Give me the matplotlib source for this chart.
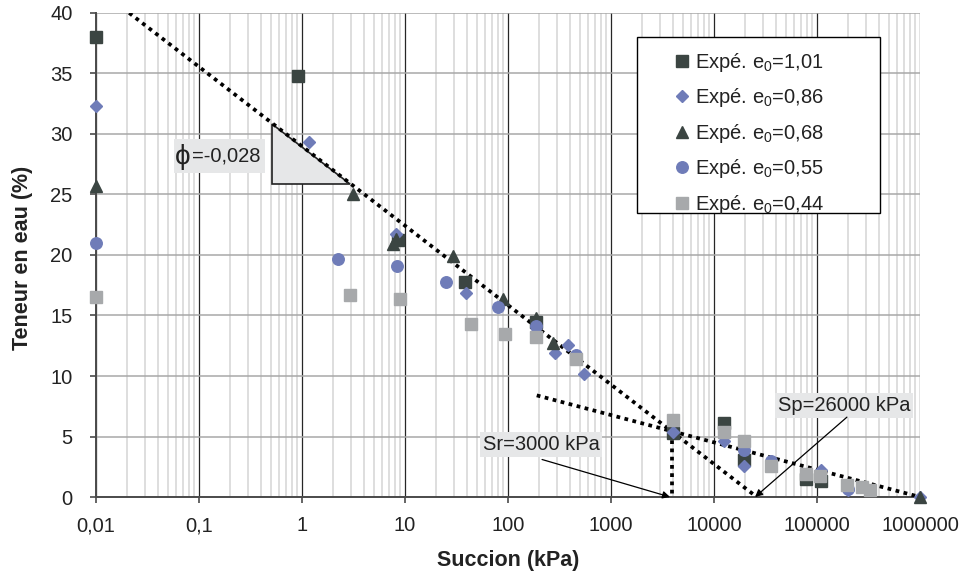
import matplotlib
matplotlib.use('Agg')
import matplotlib.pyplot as plt
from matplotlib.patches import Polygon, Rectangle
from matplotlib.ticker import FixedLocator, FixedFormatter, LogLocator, NullFormatter

plt.rcParams['font.family'] = ['Liberation Sans', 'DejaVu Sans']
plt.rcParams['mathtext.fontset'] = 'custom'
plt.rcParams['mathtext.rm'] = 'Liberation Sans'
plt.rcParams['mathtext.it'] = 'Liberation Sans:italic'

# ---- data (succion in kPa, teneur en eau in %) ----
s1_x = [0.01, 0.91, 8.5, 38, 187, 4000, 12500, 19500, 78000, 110000]
s1_y = [38.0, 34.8, 21.2, 17.8, 14.5, 5.3, 6.1, 3.1, 1.5, 1.3]

s2_x = [0.01, 1.17, 8.2, 39, 286, 380, 550, 4000, 12500, 19500, 110000, 200000, 1000000]
s2_y = [32.3, 29.3, 21.7, 16.9, 11.9, 12.6, 10.2, 5.4, 4.6, 2.6, 2.2, 0.6, 0.0]

s3_x = [0.01, 3.13, 7.6, 8.2, 29, 89, 187, 273, 1000000]
s3_y = [25.7, 25.0, 20.9, 21.3, 19.9, 16.4, 14.8, 12.7, 0.0]

s4_x = [0.01, 2.24, 8.3, 25, 80, 187, 460, 19500, 36000, 200000]
s4_y = [21.0, 19.7, 19.1, 17.8, 15.7, 14.1, 11.7, 3.9, 3.0, 0.7]

s5_x = [0.01, 2.93, 8.9, 43.6, 94, 187, 460, 4000, 12500, 19500, 36000, 78000, 107000, 195000, 275000, 330000]
s5_y = [16.5, 16.7, 16.4, 14.3, 13.5, 13.2, 11.4, 6.4, 5.4, 4.6, 2.6, 1.9, 1.7, 1.0, 0.8, 0.6]

labels = ['Expé. e$_0$=1,01', 'Expé. e$_0$=0,86', 'Expé. e$_0$=0,68',
          'Expé. e$_0$=0,55', 'Expé. e$_0$=0,44']

# fitted lines
line1_x = [0.021, 26000]
line1_y = [40, 0]
line2_x = [190, 1000000]
line2_y = [8.4, 0]
sr_x = [3900, 3900]
sr_y = [5.4, 0]

# slope triangle
tri_x = [0.51, 0.51, 2.92]
tri_y = [30.8, 25.9, 25.9]

xticks = [0.01, 0.1, 1, 10, 100, 1000, 10000, 100000, 1000000]
xtick_labels = ['0,01', '0,1', '1', '10', '100', '1000', '10000', '100000', '1000000']
yticks = [0, 5, 10, 15, 20, 25, 30, 35, 40]

c_dark = '#3b4542'
c_blue = '#6f7cb8'
c_gray = '#a7a9ab'
c_box = '#e6e7e8'

fig = plt.figure(figsize=(9.62, 5.79), dpi=100)
ax = fig.add_axes([0.0998, 0.1416, 0.8566, 0.836])

ax.set_xscale('log')
ax.set_xlim(0.01, 1e6)
ax.set_ylim(0, 40)

# grid like excel: dark decades, light minor, grey horizontals
ax.set_axisbelow(True)
ax.xaxis.set_major_locator(FixedLocator(xticks))
ax.xaxis.set_major_formatter(FixedFormatter(xtick_labels))
ax.xaxis.set_minor_locator(LogLocator(base=10, subs=range(2, 10), numticks=50))
ax.xaxis.set_minor_formatter(NullFormatter())
ax.set_yticks(yticks)
ax.xaxis.grid(True, which='major', color='#262626', lw=0.9)
ax.xaxis.grid(True, which='minor', color='#d4d4d4', lw=1.1)
ax.yaxis.grid(True, which='major', color='#a8a8a8', lw=1.1)

for s in ['top', 'right']:
    ax.spines[s].set_visible(False)
for s in ['left', 'bottom']:
    ax.spines[s].set_color('#4a4a4a')
    ax.spines[s].set_linewidth(1.4)

ax.tick_params(which='major', direction='out', length=4.3, width=1.2, color='#4a4a4a',
               labelsize=14.5, labelcolor='#222222')
ax.tick_params(axis='x', which='major', pad=9.5)
ax.tick_params(axis='y', which='major', pad=12.5)
ax.tick_params(which='minor', length=0)

# dotted fit lines
dot = (0, (1, 1.2))
ax.plot(line1_x, line1_y, color='black', lw=2.7, ls=dot, zorder=3)
ax.plot(line2_x, line2_y, color='black', lw=2.7, ls=dot, zorder=3)
ax.plot(sr_x, sr_y, color='black', lw=2.7, ls=dot, zorder=3)

# slope triangle
ax.add_patch(Polygon(list(zip(tri_x, tri_y)), closed=True, facecolor=c_box,
                     edgecolor='#222222', lw=1.2, zorder=2.5))

# experimental points
ax.plot(s1_x, s1_y, ls='none', marker='s', ms=8.3, color=c_dark, label=labels[0], zorder=4, clip_on=False)
ax.plot(s2_x, s2_y, ls='none', marker='D', ms=6.2, color=c_blue, label=labels[1], zorder=4, clip_on=False)
ax.plot(s3_x, s3_y, ls='none', marker='^', ms=9, color=c_dark, label=labels[2], zorder=4, clip_on=False)
ax.plot(s4_x, s4_y, ls='none', marker='o', ms=8.3, color=c_blue, label=labels[3], zorder=4, clip_on=False)
ax.plot(s5_x, s5_y, ls='none', marker='s', ms=8.3, color=c_gray, label=labels[4], zorder=4, clip_on=False)

# slope label: grey box, big phi, then the value
ax.add_patch(Rectangle((0.0571, 26.8), 0.4375 - 0.0571, 2.8, facecolor=c_box, edgecolor='none', zorder=5))
ax.text(0.070, 28.1, 'ϕ', fontsize=20, ha='center', va='center', color='#222222', zorder=6)
ax.text(0.185, 28.2, '=-0,028', fontsize=14.5, ha='center', va='center', color='#222222', zorder=6)

box = dict(boxstyle='square,pad=0.15', facecolor=c_box, edgecolor='none')
ax.text(209, 4.3, 'Sr=3000 kPa', fontsize=14.5, ha='center', va='center', color='#222222', bbox=box, zorder=5)
ax.text(183000, 7.6, 'Sp=26000 kPa', fontsize=14.5, ha='center', va='center', color='#222222', bbox=box, zorder=5)

arrow = dict(arrowstyle='-|>', color='black', lw=0.9, mutation_scale=11, shrinkA=0, shrinkB=0)
ax.annotate('', xy=(3740, 0), xytext=(214, 3.1), arrowprops=arrow, zorder=5)
ax.annotate('', xy=(25000, 0), xytext=(195000, 6.6), arrowprops=arrow, zorder=5)

# legend box drawn separately so the padding matches
ax.add_patch(Rectangle((0.6566, 0.587), 0.2949, 0.363, transform=ax.transAxes,
                       facecolor='white', edgecolor='black', lw=1.0, zorder=6, clip_on=False))
leg = ax.legend(loc='upper left', bbox_to_anchor=(0.704, 0.9215), frameon=False, fontsize=14.5,
                handlelength=0.6, handletextpad=0.35, labelspacing=0.62, borderpad=0,
                borderaxespad=0, numpoints=1)
leg.set_zorder(7)
for t in leg.get_texts():
    t.set_color('#222222')

ax.set_xlabel('Succion (kPa)', fontsize=15.5, fontweight='bold', color='#222222', va='top')
ax.xaxis.set_label_coords(0.5, -0.11)
ax.set_ylabel('Teneur en eau (%)', fontsize=15.5, fontweight='bold', color='#222222')
ax.yaxis.set_label_coords(-0.076, 0.494)

fig.savefig('out.png', dpi=100)
